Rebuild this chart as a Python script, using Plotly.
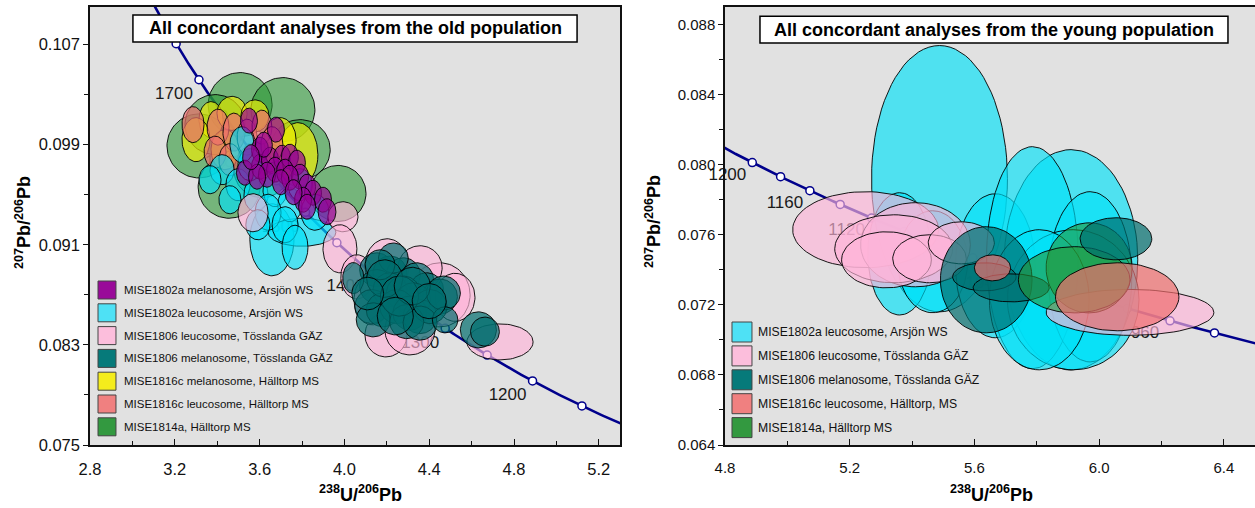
import numpy as np
import plotly.graph_objects as go

FONT = "Liberation Sans, Arial, sans-serif"

# ---------------- categories ----------------
group_keys = ["mel02", "leu02", "leu06", "mel06", "mel16", "leu16", "g14"]
group_labels = {
    "mel02": "MISE1802a melanosome, Arsjön WS",
    "leu02": "MISE1802a leucosome, Arsjön WS",
    "leu06": "MISE1806 leucosome, Tösslanda GÄZ",
    "mel06": "MISE1806 melanosome, Tösslanda GÄZ",
    "mel16": "MISE1816c melanosome, Hälltorp MS",
    "leu16": "MISE1816c leucosome, Hälltorp MS",
    "g14": "MISE1814a, Hälltorp MS",
}
young_legend_keys = ["leu02", "leu06", "mel06", "leu16", "g14"]
young_legend_labels = [
    "MISE1802a leucosome, Arsjön WS",
    "MISE1806 leucosome, Tösslanda GÄZ",
    "MISE1806 melanosome, Tösslanda GÄZ",
    "MISE1816c leucosome, Hälltorp, MS",
    "MISE1814a, Hälltorp MS",
]

fill_colors = {
    "mel02": "rgba(150,0,150,0.70)",
    "leu02": "rgba(0,225,248,0.65)",
    "leu06": "rgba(255,179,217,0.65)",
    "mel06": "rgba(0,110,110,0.70)",
    "mel16": "rgba(245,240,0,0.65)",
    "leu16": "rgba(240,110,110,0.70)",
    "g14": "rgba(40,150,50,0.58)",
}
legend_colors = {
    "mel02": "#990a99", "leu02": "#4ee1f5", "leu06": "#fcbedc", "mel06": "#067a7a",
    "mel16": "#f4ec1c", "leu16": "#f08080", "g14": "#339940",
}

# ---------------- old population (left) : centre, half-widths ----------------
old_group = (["g14"] * 8 + ["mel16"] * 7 + ["leu16"] * 8 + ["leu02"] * 17 +
             ["leu06"] * 12 + ["mel06"] * 32 + ["mel02"] * 25)
old_x = [3.508, 3.710, 3.314, 3.456, 3.970, 3.791, 3.390, 3.611,
         3.371, 3.470, 3.578, 3.300, 3.781, 3.696, 3.437,
         3.286, 3.404, 3.479, 3.541, 3.390, 3.460, 3.611, 3.658,
         3.658, 3.800, 3.423, 3.498, 3.583, 3.555, 3.517, 3.673, 3.743, 3.640, 3.720, 3.767, 3.366, 3.460, 3.791, 3.861, 3.592,
         3.569, 3.993, 3.979, 4.059, 4.201, 4.196, 4.451, 4.734, 4.309, 4.130, 4.357, 4.522,
         4.152, 4.215, 4.278, 4.341, 4.388, 4.451, 4.152, 4.215, 4.278, 4.325, 4.129, 4.183, 4.247,
         4.309, 4.357, 4.404, 4.467, 4.136, 4.294, 4.357, 4.475, 4.632, 4.663, 4.042, 4.231, 4.168,
         4.190, 4.260, 4.320, 4.400, 4.240, 4.110,
         3.550, 3.677, 3.602, 3.531, 3.602, 3.649, 3.706, 3.743, 3.776, 3.673, 3.720, 3.635, 3.588,
         3.791, 3.743, 3.824, 3.852, 3.805, 3.899, 3.824, 3.918, 3.620, 3.700, 3.560, 3.760]
old_y = [0.1022, 0.1018, 0.0989, 0.0956, 0.0951, 0.0986, 0.1006, 0.0970,
         0.1010, 0.1015, 0.1013, 0.0994, 0.0982, 0.0994, 0.0986,
         0.1006, 0.1004, 0.1000, 0.0996, 0.0984, 0.0978, 0.1004, 0.0990,
         0.0914, 0.0920, 0.0970, 0.0958, 0.0950, 0.0974, 0.0990, 0.0954, 0.0942, 0.0936, 0.0926, 0.0908, 0.0962, 0.0946, 0.0958, 0.0936, 0.0926,
         0.09356, 0.09324, 0.09068, 0.08844, 0.08932, 0.0838, 0.0870, 0.08324, 0.0842, 0.0866, 0.08916, 0.0868,
         0.0890, 0.08874, 0.0886, 0.0882, 0.0874, 0.08686, 0.08766, 0.0874, 0.08714, 0.0866, 0.08606, 0.0858, 0.08606,
         0.08554, 0.08526, 0.08606, 0.08714, 0.0850, 0.08486, 0.08474, 0.0850, 0.0842, 0.08406, 0.08834, 0.08994, 0.0894,
         0.0883, 0.0869, 0.0877, 0.0865, 0.0853, 0.0871,
         0.10092, 0.1002, 0.0986, 0.09676, 0.09724, 0.0978, 0.09796, 0.09804, 0.09756, 0.0970, 0.09684, 0.0966, 0.09644,
         0.09644, 0.09636, 0.09564, 0.09516, 0.0946, 0.0946, 0.09404, 0.09364, 0.0990, 0.0960, 0.0980, 0.0952]
old_sx = [0.151, 0.151, 0.151, 0.146, 0.132, 0.142, 0.142, 0.132,
          0.057, 0.071, 0.066, 0.066, 0.094, 0.076, 0.066,
          0.052, 0.052, 0.052, 0.047, 0.052, 0.052, 0.047, 0.052,
          0.104, 0.160, 0.057, 0.057, 0.057, 0.057, 0.057, 0.057, 0.057, 0.061, 0.061, 0.061, 0.052, 0.052, 0.057, 0.066, 0.057,
          0.071, 0.071, 0.080, 0.076, 0.104, 0.099, 0.142, 0.156, 0.118, 0.085, 0.104, 0.094,
          0.080, 0.080, 0.080, 0.080, 0.080, 0.082, 0.080, 0.080, 0.080, 0.080, 0.080, 0.080, 0.080,
          0.080, 0.080, 0.080, 0.080, 0.080, 0.080, 0.080, 0.060, 0.085, 0.068, 0.050, 0.070, 0.070,
          0.085, 0.090, 0.085, 0.080, 0.085, 0.075,
          0.040, 0.040, 0.040, 0.040, 0.040, 0.040, 0.040, 0.040, 0.040, 0.040, 0.040, 0.040, 0.040,
          0.040, 0.040, 0.040, 0.040, 0.040, 0.040, 0.040, 0.042, 0.040, 0.040, 0.040, 0.040]
old_sy = [0.00256, 0.00256, 0.00256, 0.00248, 0.00224, 0.0024, 0.0024, 0.00224,
          0.00144, 0.00136, 0.00128, 0.00176, 0.00256, 0.00176, 0.0016,
          0.00144, 0.00144, 0.00152, 0.00144, 0.00128, 0.00128, 0.00136, 0.00144,
          0.00288, 0.00112, 0.0012, 0.00128, 0.00136, 0.00128, 0.00144, 0.00136, 0.00136, 0.00144, 0.00144, 0.00176, 0.00112, 0.00112, 0.00128, 0.00144, 0.0012,
          0.00152, 0.0012, 0.00192, 0.00176, 0.00216, 0.00176, 0.00256, 0.00144, 0.0020, 0.0020, 0.00176, 0.00192,
          0.00136, 0.00136, 0.00136, 0.00136, 0.00136, 0.0014, 0.00136, 0.00136, 0.00136, 0.00136, 0.00136, 0.00136, 0.00136,
          0.00136, 0.00136, 0.00136, 0.00136, 0.00136, 0.00136, 0.00136, 0.00104, 0.00144, 0.00116, 0.00124, 0.0012, 0.0012,
          0.00150, 0.00160, 0.00150, 0.00140, 0.00150, 0.00130,
          0.00100, 0.00100, 0.00100, 0.00100, 0.00100, 0.00100, 0.00100, 0.00100, 0.00100, 0.00100, 0.00100, 0.00100, 0.00100,
          0.00100, 0.00100, 0.00100, 0.00100, 0.00100, 0.00100, 0.00100, 0.00104, 0.00100, 0.00100, 0.00100, 0.00100]

# ---------------- young population (right) ----------------
young_group = (["leu02"] * 9 + ["leu06"] * 7 + ["mel06"] * 3 + ["g14"] * 2 +
               ["leu16"] * 2 + ["mel06"] * 1)
young_x = [5.488, 5.360, 5.466, 5.667, 5.910, 5.786, 5.971, 5.917, 5.808,
           5.251, 5.411, 5.341, 5.318, 5.456, 5.558, 6.099,
           5.638, 5.632, 5.718,
           5.968, 5.920,
           5.658, 6.058,
           6.054]
young_y = [0.0792, 0.07491, 0.07446, 0.07423, 0.07457, 0.07469, 0.0736, 0.07229, 0.07229,
           0.07629, 0.07543, 0.0752, 0.07457, 0.07463, 0.07554, 0.07157,
           0.07343, 0.0736, 0.07297,
           0.07411, 0.07343,
           0.07411, 0.07246,
           0.07577]
young_sx = [0.218, 0.102, 0.112, 0.128, 0.214, 0.147, 0.134, 0.211, 0.160,
            0.234, 0.176, 0.189, 0.144, 0.118, 0.106, 0.269,
            0.147, 0.102, 0.122,
            0.138, 0.179,
            0.058, 0.198,
            0.115]
young_sy = [0.0076, 0.00349, 0.00291, 0.00411, 0.00629, 0.00634, 0.00486, 0.0040, 0.0040,
            0.00217, 0.0024, 0.00194, 0.0016, 0.00137, 0.0012, 0.00131,
            0.00303, 0.0008, 0.0008,
            0.00257, 0.00189,
            0.00074, 0.00194,
            0.0012]

# ---------------- concordia ages ----------------
old_marker_ages = [1150, 1200, 1250, 1300, 1350, 1400, 1450, 1500, 1550, 1600, 1650, 1700, 1750]
old_label_ages = [1700, 1600, 1500, 1400, 1300, 1200]
young_marker_ages = [940, 960, 980, 1000, 1020, 1040, 1060, 1080, 1100, 1120, 1140, 1160, 1180, 1200]
young_label_ages = [1200, 1160, 1120, 1080, 1040, 1000, 960]

titles = ["All concordant analyses from the old population",
          "All concordant analyses from the young population"]

L238, L235, U85 = 1.55125e-10, 9.8485e-10, 137.88


def concordia(t_ma):
    t = np.asarray(t_ma, float) * 1e6
    e8 = np.exp(L238 * t) - 1.0
    e5 = np.exp(L235 * t) - 1.0
    return 1.0 / e8, e5 / e8 / U85


theta = np.linspace(0, 2 * np.pi, 81)

fig = go.Figure()
NAVY = "#00008c"


def add_panel(xa, ya, t_lo, t_hi, m_ages, l_ages, dx, dy, groups, xs, ys, sxs, sys_):
    cx, cy = concordia(np.linspace(t_lo, t_hi, 400))
    fig.add_trace(go.Scatter(x=cx, y=cy, mode="lines", line=dict(color=NAVY, width=2.6),
                             xaxis=xa, yaxis=ya, hoverinfo="skip"))
    mx, my = concordia(m_ages)
    fig.add_trace(go.Scatter(x=mx, y=my, mode="markers",
                             marker=dict(size=8, color="white", line=dict(color=NAVY, width=1.5)),
                             xaxis=xa, yaxis=ya, hoverinfo="skip"))
    lx, ly = concordia(l_ages)
    fig.add_trace(go.Scatter(x=lx + dx, y=ly + dy, mode="text", text=[str(a) for a in l_ages],
                             textfont=dict(size=17, color="#1a1a1a", family=FONT),
                             textposition="middle center", cliponaxis=False,
                             xaxis=xa, yaxis=ya, hoverinfo="skip"))
    for g, x0, y0, sx, sy in zip(groups, xs, ys, sxs, sys_):
        fig.add_trace(go.Scatter(x=x0 + sx * np.cos(theta), y=y0 + sy * np.sin(theta),
                                 mode="lines", fill="toself", fillcolor=fill_colors[g],
                                 line=dict(color="rgba(0,0,0,0.9)", width=1),
                                 xaxis=xa, yaxis=ya, hoverinfo="skip"))


add_panel("x", "y", 1050, 1850, old_marker_ages, old_label_ages, -0.118, -0.0012,
          old_group, old_x, old_y, old_sx, old_sy)
add_panel("x2", "y2", 880, 1250, young_marker_ages, young_label_ages, -0.08, -0.00074,
          young_group, young_x, young_y, young_sx, young_sy)

axis_common = dict(showline=True, linecolor="#111", linewidth=1.5, mirror=True,
                   showgrid=False, zeroline=False, tickcolor="#111", tickwidth=1.2,
                   automargin=False)

fig.update_layout(
    template="none",
    width=1255, height=508, margin=dict(l=0, r=0, t=7, b=63, pad=0, autoexpand=False),
    paper_bgcolor="white", plot_bgcolor="#e1e1e1", showlegend=False,
    font=dict(family=FONT, color="#111"),
    xaxis=dict(domain=[90 / 1255, 620 / 1255], range=[2.8, 5.3], tick0=2.8, dtick=0.4,
               tickformat=".1f", ticks="inside", ticklen=6, ticklabelstandoff=8,
               minor=dict(dtick=0.2, tick0=2.8, ticks="inside", ticklen=4, tickcolor="#111"),
               tickfont=dict(size=16.5), anchor="y", **axis_common),
    yaxis=dict(domain=[0, 1], range=[0.075, 0.110], tick0=0.075, dtick=0.008,
               tickformat=".3f", ticks="outside", ticklen=5,
               minor=dict(dtick=0.004, tick0=0.075, ticks="outside", ticklen=4, tickcolor="#111"),
               tickfont=dict(size=16.5), anchor="x", **axis_common),
    xaxis2=dict(domain=[725 / 1255, 1.0], range=[4.8, 6.5], tick0=4.8, dtick=0.4,
                tickformat=".1f", ticks="inside", ticklen=6, ticklabelstandoff=8,
                minor=dict(dtick=0.2, tick0=4.8, ticks="inside", ticklen=4, tickcolor="#111"),
                tickfont=dict(size=15), anchor="y2", **axis_common),
    yaxis2=dict(domain=[0, 1], range=[0.064, 0.089], tick0=0.064, dtick=0.004,
                tickformat=".3f", ticks="outside", ticklen=5,
                minor=dict(dtick=0.002, tick0=0.064, ticks="outside", ticklen=4, tickcolor="#111"),
                tickfont=dict(size=15), anchor="x2", **axis_common),
)

shapes = []
annotations = []

# title boxes
for (xr, yr, bx0, bx1, by0, by1, tx, ty, txt) in [
        ("x domain", "y domain", 0.081, 0.919, 0.920, 0.982, 0.5, 0.951, titles[0]),
        ("x2 domain", "y2 domain", 0.066, 0.949, 0.918, 0.979, 0.5075, 0.9486, titles[1])]:
    shapes.append(dict(type="rect", xref=xr, yref=yr, x0=bx0, x1=bx1, y0=by0, y1=by1,
                       fillcolor="white", line=dict(color="black", width=1.5), layer="above"))
    annotations.append(dict(xref=xr, yref=yr, x=tx, y=ty, text="<b>" + txt + "</b>",
                            showarrow=False, font=dict(size=18, color="black", family=FONT),
                            xanchor="center", yanchor="middle"))


# legends
def add_legend(xr, yr, keys, labels, y_top, step, sq_x0, sq_x1, half_h, text_x, fsize):
    for i, (k, lab) in enumerate(zip(keys, labels)):
        yc = y_top - i * step
        shapes.append(dict(type="rect", xref=xr, yref=yr, x0=sq_x0, x1=sq_x1,
                           y0=yc - half_h, y1=yc + half_h, fillcolor=legend_colors[k],
                           line=dict(color="#444", width=1), layer="above"))
        annotations.append(dict(xref=xr, yref=yr, x=text_x, y=yc, text=lab, showarrow=False,
                                xanchor="left", yanchor="middle",
                                font=dict(size=fsize, color="#111", family=FONT)))


add_legend("x domain", "y domain", group_keys, [group_labels[k] for k in group_keys],
           (445 - 290) / 438, 22.8 / 438, 0.0151, 0.049, 9 / 438, 0.0604, 11.5)
add_legend("x2 domain", "y2 domain", young_legend_keys, young_legend_labels,
           (445 - 332) / 438, 23.9 / 438, 0.0132, 0.0509, 10 / 438, 0.0585, 12.2)

# axis titles
ytitle = "<b><sup>207</sup>Pb/<sup>206</sup>Pb</b>"
xtitle = "<b><sup>238</sup>U/<sup>206</sup>Pb</b>"
for x, y, txt, ang in [(23 / 1255, 0.509, ytitle, -90), (653 / 1255, 0.509, ytitle, -90),
                       (360 / 1255, -0.1096, xtitle, 0), (991 / 1255, -0.1096, xtitle, 0)]:
    annotations.append(dict(xref="paper", yref="paper", x=x, y=y, text=txt, textangle=ang,
                            showarrow=False, xanchor="center", yanchor="middle",
                            font=dict(size=18, color="black", family=FONT)))

fig.update_layout(shapes=shapes, annotations=annotations)
fig.write_html("out.html")
